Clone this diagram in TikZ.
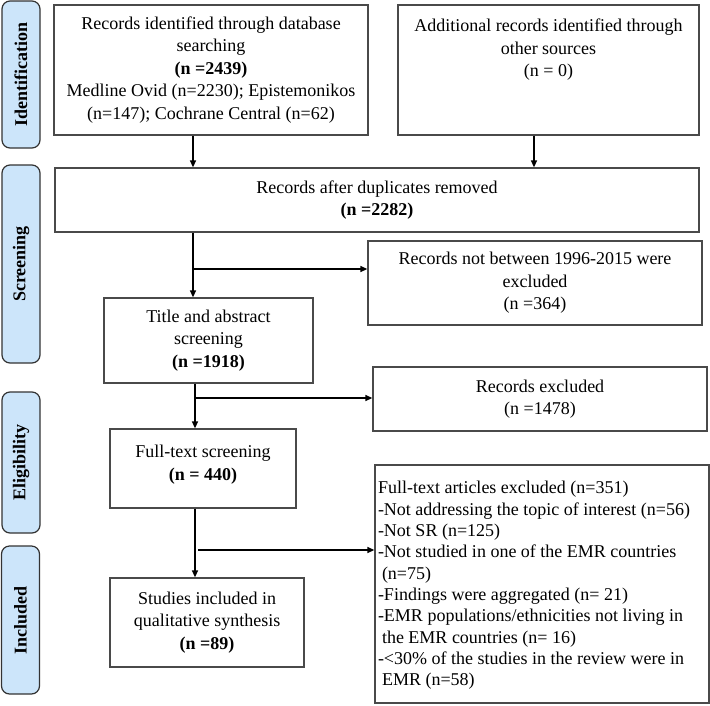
\documentclass[tikz,border=0pt]{standalone}
\usepackage{fontspec}
\setmainfont{Liberation Serif}
\usetikzlibrary{arrows.meta}
\definecolor{lblue}{HTML}{CCE5FA}
\definecolor{bordergray}{HTML}{4A4A4A}
\begin{document}
\begin{tikzpicture}[x=1pt,y=-1pt,
  box/.style={draw=bordergray, line width=1.3pt, rectangle, inner sep=0pt, align=center,
    font=\fontsize{18}{22.5}\selectfont},
  phase/.style={draw=black!80, fill=lblue, line width=1.2pt, rounded corners=8pt, inner sep=0pt,
    minimum height=38pt, font=\fontsize{18}{22}\selectfont\bfseries, rotate=90},
  arr/.style={line width=1.3pt, -{Triangle[length=7pt,width=6pt]}},
  ln/.style={line width=1.3pt}]
\useasboundingbox (0,0) rectangle (710,705);

% phase labels
\node[phase, minimum width=147pt] (p1) at (21,74.5) {Identification};
\node[phase, minimum width=198pt] (p2) at (21,264) {Screening};
\node[phase, minimum width=141pt] (p3) at (21,462.5) {Eligibility};
\node[phase, minimum width=148pt] (p4) at (20.5,620) {Included};

% boxes
\node[box, minimum width=314pt, minimum height=130pt] (A) at (211,70)
  {Records identified through database\\ searching\\ \textbf{(n =2439)}\\
   Medline Ovid (n=2230); Epistemonikos\\ (n=147); Cochrane Central (n=62)};
\node[box, minimum width=301pt, minimum height=130pt] (B) at (548.5,70)
  {\parbox[c][128pt][t]{295pt}{\vspace*{10pt}\centering\strut Additional records identified through\\ other sources\\ (n = 0)}};
\node[box, minimum width=644pt, minimum height=64pt] (C) at (377,200)
  {Records after duplicates removed\\ \textbf{(n =2282)}};
\node[box, minimum width=334pt, minimum height=84pt] (D) at (535,283)
  {Records not between 1996-2015 were\\ excluded\\ (n =364)};
\node[box, minimum width=209pt, minimum height=85pt] (E) at (208.5,340.5)
  {Title and abstract\\ screening\\ \textbf{(n =1918)}};
\node[box, minimum width=334pt, minimum height=64pt] (F) at (540,399)
  {Records excluded\\ (n =1478)};
\node[box, minimum width=186pt, minimum height=79pt] (G) at (203,468.5)
  {\parbox[c][77pt][t]{180pt}{\vspace*{12pt}\centering\strut Full-text screening\\ \textbf{(n = 440)}}};
\node[box, minimum width=334pt, minimum height=238pt] (H) at (542,584)
  {\parbox[c][236pt][t]{328pt}{\fontsize{18}{21.3}\selectfont\vspace*{13pt}\raggedright\strut
   Full-text articles excluded (n=351)\\
   -Not addressing the topic of interest (n=56)\\
   -Not SR (n=125)\\
   -Not studied in one of the EMR countries\\
   \hspace*{4pt}(n=75)\\
   -Findings were aggregated (n= 21)\\
   -EMR populations/ethnicities not living in\\
   \hspace*{4pt}the EMR countries (n= 16)\\
   -<30\% of the studies in the review were in\\
   \hspace*{4pt}EMR (n=58)}};
\node[box, minimum width=194pt, minimum height=89pt] (I) at (207,622.5)
  {Studies included in\\ qualitative synthesis\\ \textbf{(n =89)}};

% helper coordinates
\coordinate (k1) at (193,0);
\coordinate (k2) at (534,0);
\coordinate (k3) at (195,0);
\coordinate (b1) at (193,269);
\coordinate (b2) at (195,398);
\coordinate (b3) at (198,550);

% connectors
\draw[arr] (A.south -| k1) -- (C.north -| k1);
\draw[arr] (B.south -| k2) -- (C.north -| k2);
\draw[arr] (C.south -| k1) -- (E.north -| k1);
\draw[arr] (b1) -- (b1 -| D.west);
\draw[arr] (E.south -| k3) -- (G.north -| k3);
\draw[arr] (b2) -- (b2 -| F.west);
\draw[arr] (G.south -| k3) -- (I.north -| k3);
\draw[arr] (b3) -- (b3 -| H.west);
\end{tikzpicture}
\end{document}
